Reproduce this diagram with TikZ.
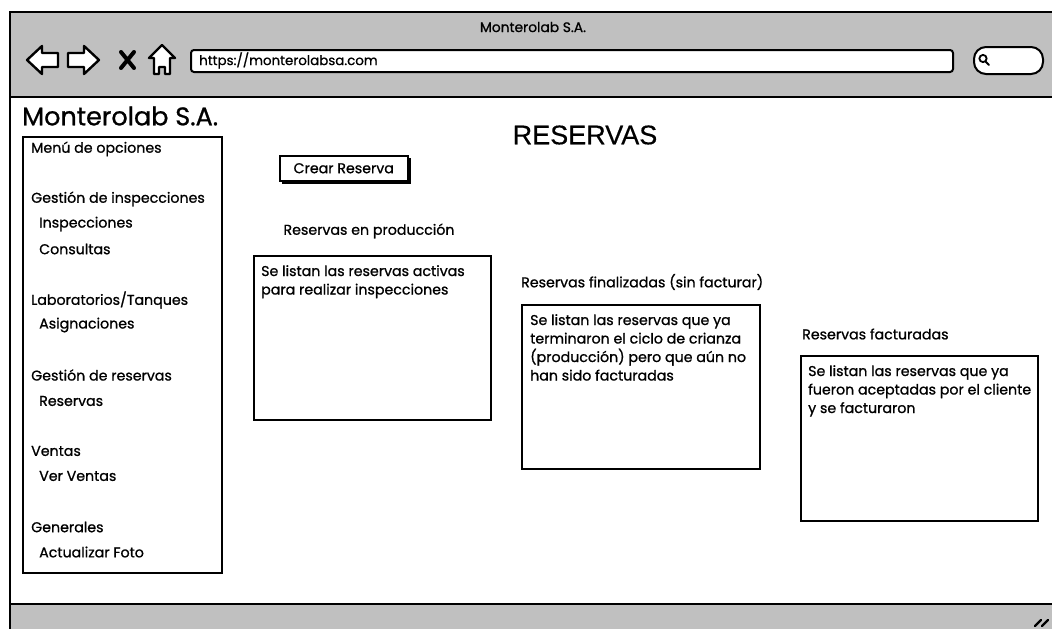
\documentclass[tikz,border=0pt]{standalone}
\usepackage{fontspec}
\setmainfont{Poppins}[FakeBold=0.9]
\newfontfamily\headfont{Liberation Sans}[FakeBold=0.4]
\begin{document}
\begin{tikzpicture}[x=1pt,y=-1pt,
  frame/.style={draw=black,line width=2pt,line join=round},
  greybar/.style={fill=barGrey,draw=black,line width=2pt},
  txt/.style={inner sep=0pt,font=\fontsize{14.2}{18.5}\selectfont},
  menuitem/.style={txt,anchor=west},
  listbox/.style={draw=black,line width=2pt,fill=white},
  boxtext/.style={inner sep=0pt,anchor=north west,align=left,font=\fontsize{14.2}{18.5}\selectfont},
  icon/.style={draw=black,line width=2.4pt,fill=white,line join=round,line cap=round}]
\definecolor{barGrey}{HTML}{C0C0C0}
\useasboundingbox (0,0) rectangle (1052,629);
\begin{scope}
\clip (0,0) rectangle (1052,629);
% browser window
\fill[white] (10,12) rectangle (1070,640);
\draw[greybar] (10,12) rectangle (1070,97);
\draw[greybar] (10,604) rectangle (1070,640);
\draw[frame] (10,12) rectangle (1070,640);
\end{scope}

% title bar
\node[txt,font=\fontsize{13.8}{16}\selectfont] (wintitle) at (533,27) {Monterolab S.A.};

% navigation icons
\draw[icon] (27,60) -- (42,46) -- (42,53) -- (58,53) -- (58,67) -- (42,67) -- (42,74) -- cycle;
\draw[icon] (99,60) -- (84,46) -- (84,53) -- (68,53) -- (68,67) -- (84,67) -- (84,74) -- cycle;
\draw[black,line width=4pt,line cap=round] (121,52) -- (134,68) (134,52) -- (121,68);
\draw[icon] (162,45) -- (175,58) -- (170,58) -- (170,74) -- (165,74) -- (165,67) -- (159,67) -- (159,74) -- (154,74) -- (154,58) -- (149,58) -- cycle;

% address bar
\draw[listbox,rounded corners=3pt] (191,50) rectangle (953,72);
\node[txt,anchor=west,font=\fontsize{13.4}{16}\selectfont] (url) at (199,60.5) {https://monterolabsa.com};

% search field
\draw[listbox,rounded corners=12pt] (974,47) rectangle (1043,74);
\draw[black,line width=1.8pt] (983,58.5) circle (3.6pt);
\draw[black,line width=2pt,line cap=round] (985.5,61.5) -- (989,65);

% page heading
\node[inner sep=0pt,anchor=west,font=\fontsize{25.5}{28}\selectfont] (brand) at (22,116) {Monterolab S.A.};
\node[inner sep=0pt,font=\headfont\fontsize{27}{30}\selectfont] (heading) at (585,135) {RESERVAS};

% side menu
\node[listbox,minimum width=199pt,minimum height=436pt,anchor=north west,inner sep=0pt] (menu) at (22,136) {};
\node[menuitem] (m0) at (31,149) {Menú de opciones};
\node[menuitem] (m1) at (31,199) {Gestión de inspecciones};
\node[menuitem] (m2) at (39,224) {Inspecciones};
\node[menuitem] (m3) at (39,249) {Consultas};
\node[menuitem] (m4) at (31,300) {Laboratorios/Tanques};
\node[menuitem] (m5) at (39,325) {Asignaciones};
\node[menuitem] (m6) at (31,375) {Gestión de reservas};
\node[menuitem] (m7) at (39,401) {Reservas};
\node[menuitem] (m8) at (31,451) {Ventas};
\node[menuitem] (m9) at (39,476) {Ver Ventas};
\node[menuitem] (m10) at (31,527) {Generales};
\node[menuitem] (m11) at (39,552) {Actualizar Foto};

% create button with drop shadow
\fill[black] (282,158) rectangle (410.5,184);
\node[draw=black,line width=1.5pt,fill=white,minimum width=128pt,minimum height=25pt,anchor=north west,inner sep=0pt] (crear) at (279,155) {};
\node[txt] (crearlbl) at (crear.center) {Crear Reserva};

% reservation lists
\node[txt] (t1) at (369,231) {Reservas en producción};
\node[listbox,minimum width=237pt,minimum height=164pt,anchor=north west,inner sep=0pt] (b1) at (253,255) {};
\node[boxtext] (b1txt) at (261,265) {Se listan las reservas activas\\para realizar inspecciones};

\node[txt,anchor=west] (t2) at (521,282) {Reservas finalizadas (sin facturar)};
\node[listbox,minimum width=238pt,minimum height=164pt,anchor=north west,inner sep=0pt] (b2) at (521,304) {};
\node[boxtext] (b2txt) at (530,314) {Se listan las reservas que ya\\terminaron el ciclo de crianza\\(producción) pero que aún no\\han sido facturadas};

\node[txt,anchor=west] (t3) at (802,334) {Reservas facturadas};
\node[listbox,minimum width=237pt,minimum height=165pt,anchor=north west,inner sep=0pt] (b3) at (800,355) {};
\node[boxtext] (b3txt) at (808,365) {Se listan las reservas que ya\\fueron aceptadas por el cliente\\y se facturaron};

% resize grip
\draw[black,line width=2.2pt,line cap=round] (1035,626) -- (1041,620) (1042,626) -- (1048,620);
\end{tikzpicture}
\end{document}
